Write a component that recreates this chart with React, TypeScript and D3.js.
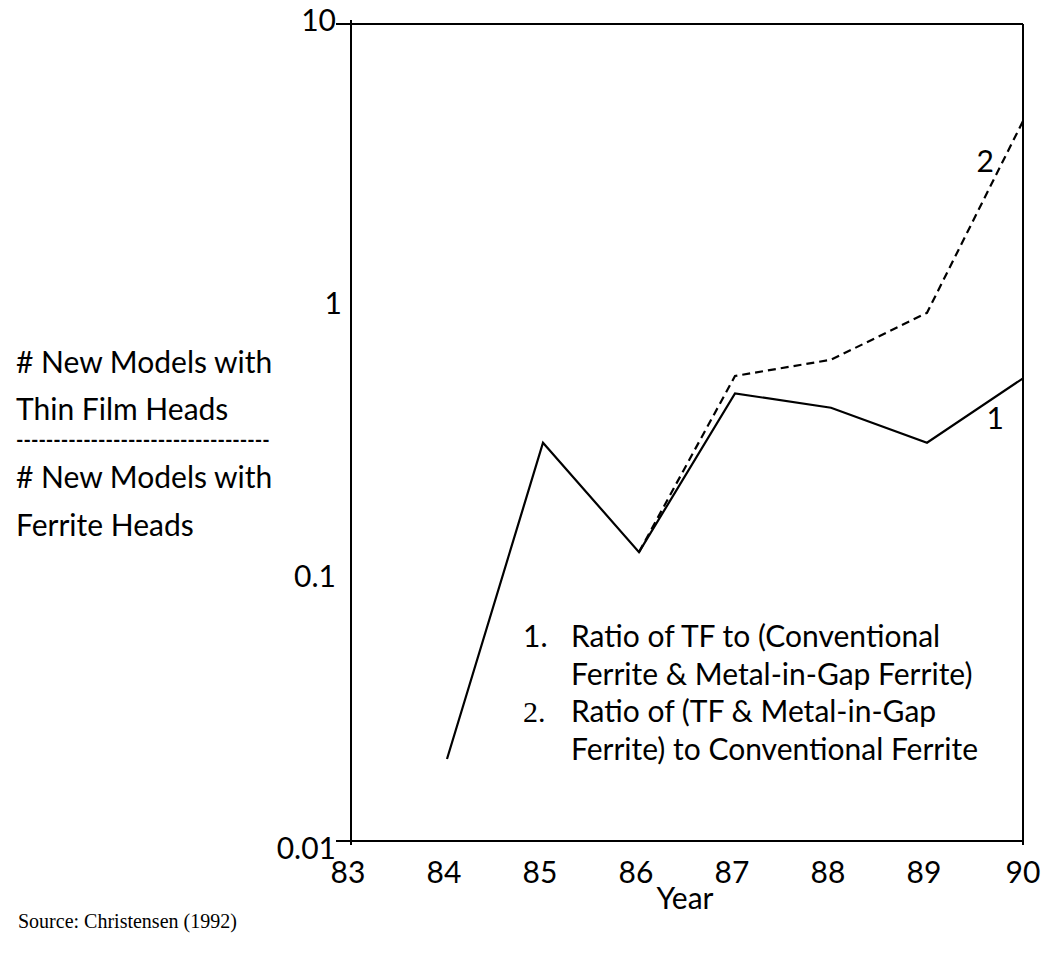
import React from "react";
import * as d3 from "d3";

const years = [83, 84, 85, 86, 87, 88, 89, 90];
const yTickValues = [10, 1, 0.1, 0.01];
const yTickLabels = ["10", "1", "0.1", "0.01"];
const series1Years = [84, 85, 86, 87, 88, 89, 90];
const series1Values = [0.02, 0.29, 0.115, 0.44, 0.39, 0.29, 0.5];
const series2Years = [86, 87, 88, 89, 90];
const series2Values = [0.115, 0.51, 0.585, 0.87, 4.4];
const yLabelLines = ["# New Models with", "Thin Film Heads", "# New Models with", "Ferrite Heads"];
const yLabelDivider = "----------------------------------";

const W = 1041;
const H = 953;
const FONT = "Lato, 'Open Sans', sans-serif";
const SERIF = "'Liberation Serif', 'Times New Roman', serif";

export default function App() {
  const x = d3.scaleLinear().domain([83, 90]).range([351, 1023]);
  const y = d3.scaleLog().domain([0.01, 10]).range([841, 24]);
  const line = d3
    .line<[number, number]>()
    .x((d) => x(d[0]))
    .y((d) => y(d[1]));
  const s1 = series1Years.map((yr, i) => [yr, series1Values[i]] as [number, number]);
  const s2 = series2Years.map((yr, i) => [yr, series2Values[i]] as [number, number]);
  const x0 = x(83), x1 = x(90), yTop = y(10), yBot = y(0.01);
  const tickDy = [-1, 10, 11, 10];
  const tickDx = [0, 6, 0, 0];

  return (
    <svg width={W} height={H} style={{ position: "absolute", left: 0, top: 0, background: "#fff" }}>
      <rect width={W} height={H} fill="#fff" />
      {/* frame */}
      <g stroke="#000" strokeWidth={2} fill="none">
        <line x1={x0 - 15} x2={x1} y1={yTop} y2={yTop} />
        <line x1={x0 - 15} x2={x1} y1={yBot} y2={yBot} />
        <line x1={x0} x2={x0} y1={yTop - 4} y2={yBot + 4} />
        <line x1={x1} x2={x1} y1={yTop} y2={yBot + 4} />
      </g>
      {/* y tick labels */}
      <g fontFamily={FONT} fontSize={30} fill="#000" textAnchor="end">
        {yTickValues.map((v, i) => (
          <text key={v} x={336 + tickDx[i]} y={y(v) + tickDy[i]} dominantBaseline="middle">
            {yTickLabels[i]}
          </text>
        ))}
      </g>
      {/* x tick labels */}
      <g fontFamily={FONT} fontSize={30} fill="#000" textAnchor="middle">
        {years.map((yr) => (
          <text key={yr} x={x(yr) - (yr === 90 ? 0 : 3)} y={883}>
            {yr}
          </text>
        ))}
        <text x={685} y={909}>Year</text>
      </g>
      {/* data */}
      <path d={line(s1) || ""} fill="none" stroke="#000" strokeWidth={2.2} strokeLinejoin="miter" />
      <path d={line(s2) || ""} fill="none" stroke="#000" strokeWidth={2.2} strokeDasharray="8,5" />
      <text x={x(90) - 19} y={y(0.5) + 51} fontFamily={FONT} fontSize={30} textAnchor="end">1</text>
      <text x={x(90) - 29} y={y(4.4) + 51} fontFamily={FONT} fontSize={30} textAnchor="end">2</text>
      {/* y label */}
      <g fontFamily={FONT} fontSize={30} fill="#000">
        {yLabelLines.map((t, i) => (
          <text key={i} x={16} y={[373, 420, 488, 536][i]}>
            {t}
          </text>
        ))}
        <text x={16} y={447} fontSize={20} fontWeight={700}>
          {yLabelDivider}
        </text>
      </g>
      {/* legend */}
      <g fontFamily={FONT} fontSize={30} fill="#000">
        <text x={523} y={647}>1.</text>
        <text x={571} y={647}>Ratio of TF to (Conventional</text>
        <text x={571} y={685}>Ferrite &amp; Metal-in-Gap Ferrite)</text>
        <text x={523} y={722} fontFamily={SERIF}>2.</text>
        <text x={571} y={722}>Ratio of (TF &amp; Metal-in-Gap</text>
        <text x={571} y={760}>Ferrite) to Conventional Ferrite</text>
      </g>
      <text x={18} y={928} fontFamily={SERIF} fontSize={20} fill="#000">
        Source: Christensen (1992)
      </text>
    </svg>
  );
}
